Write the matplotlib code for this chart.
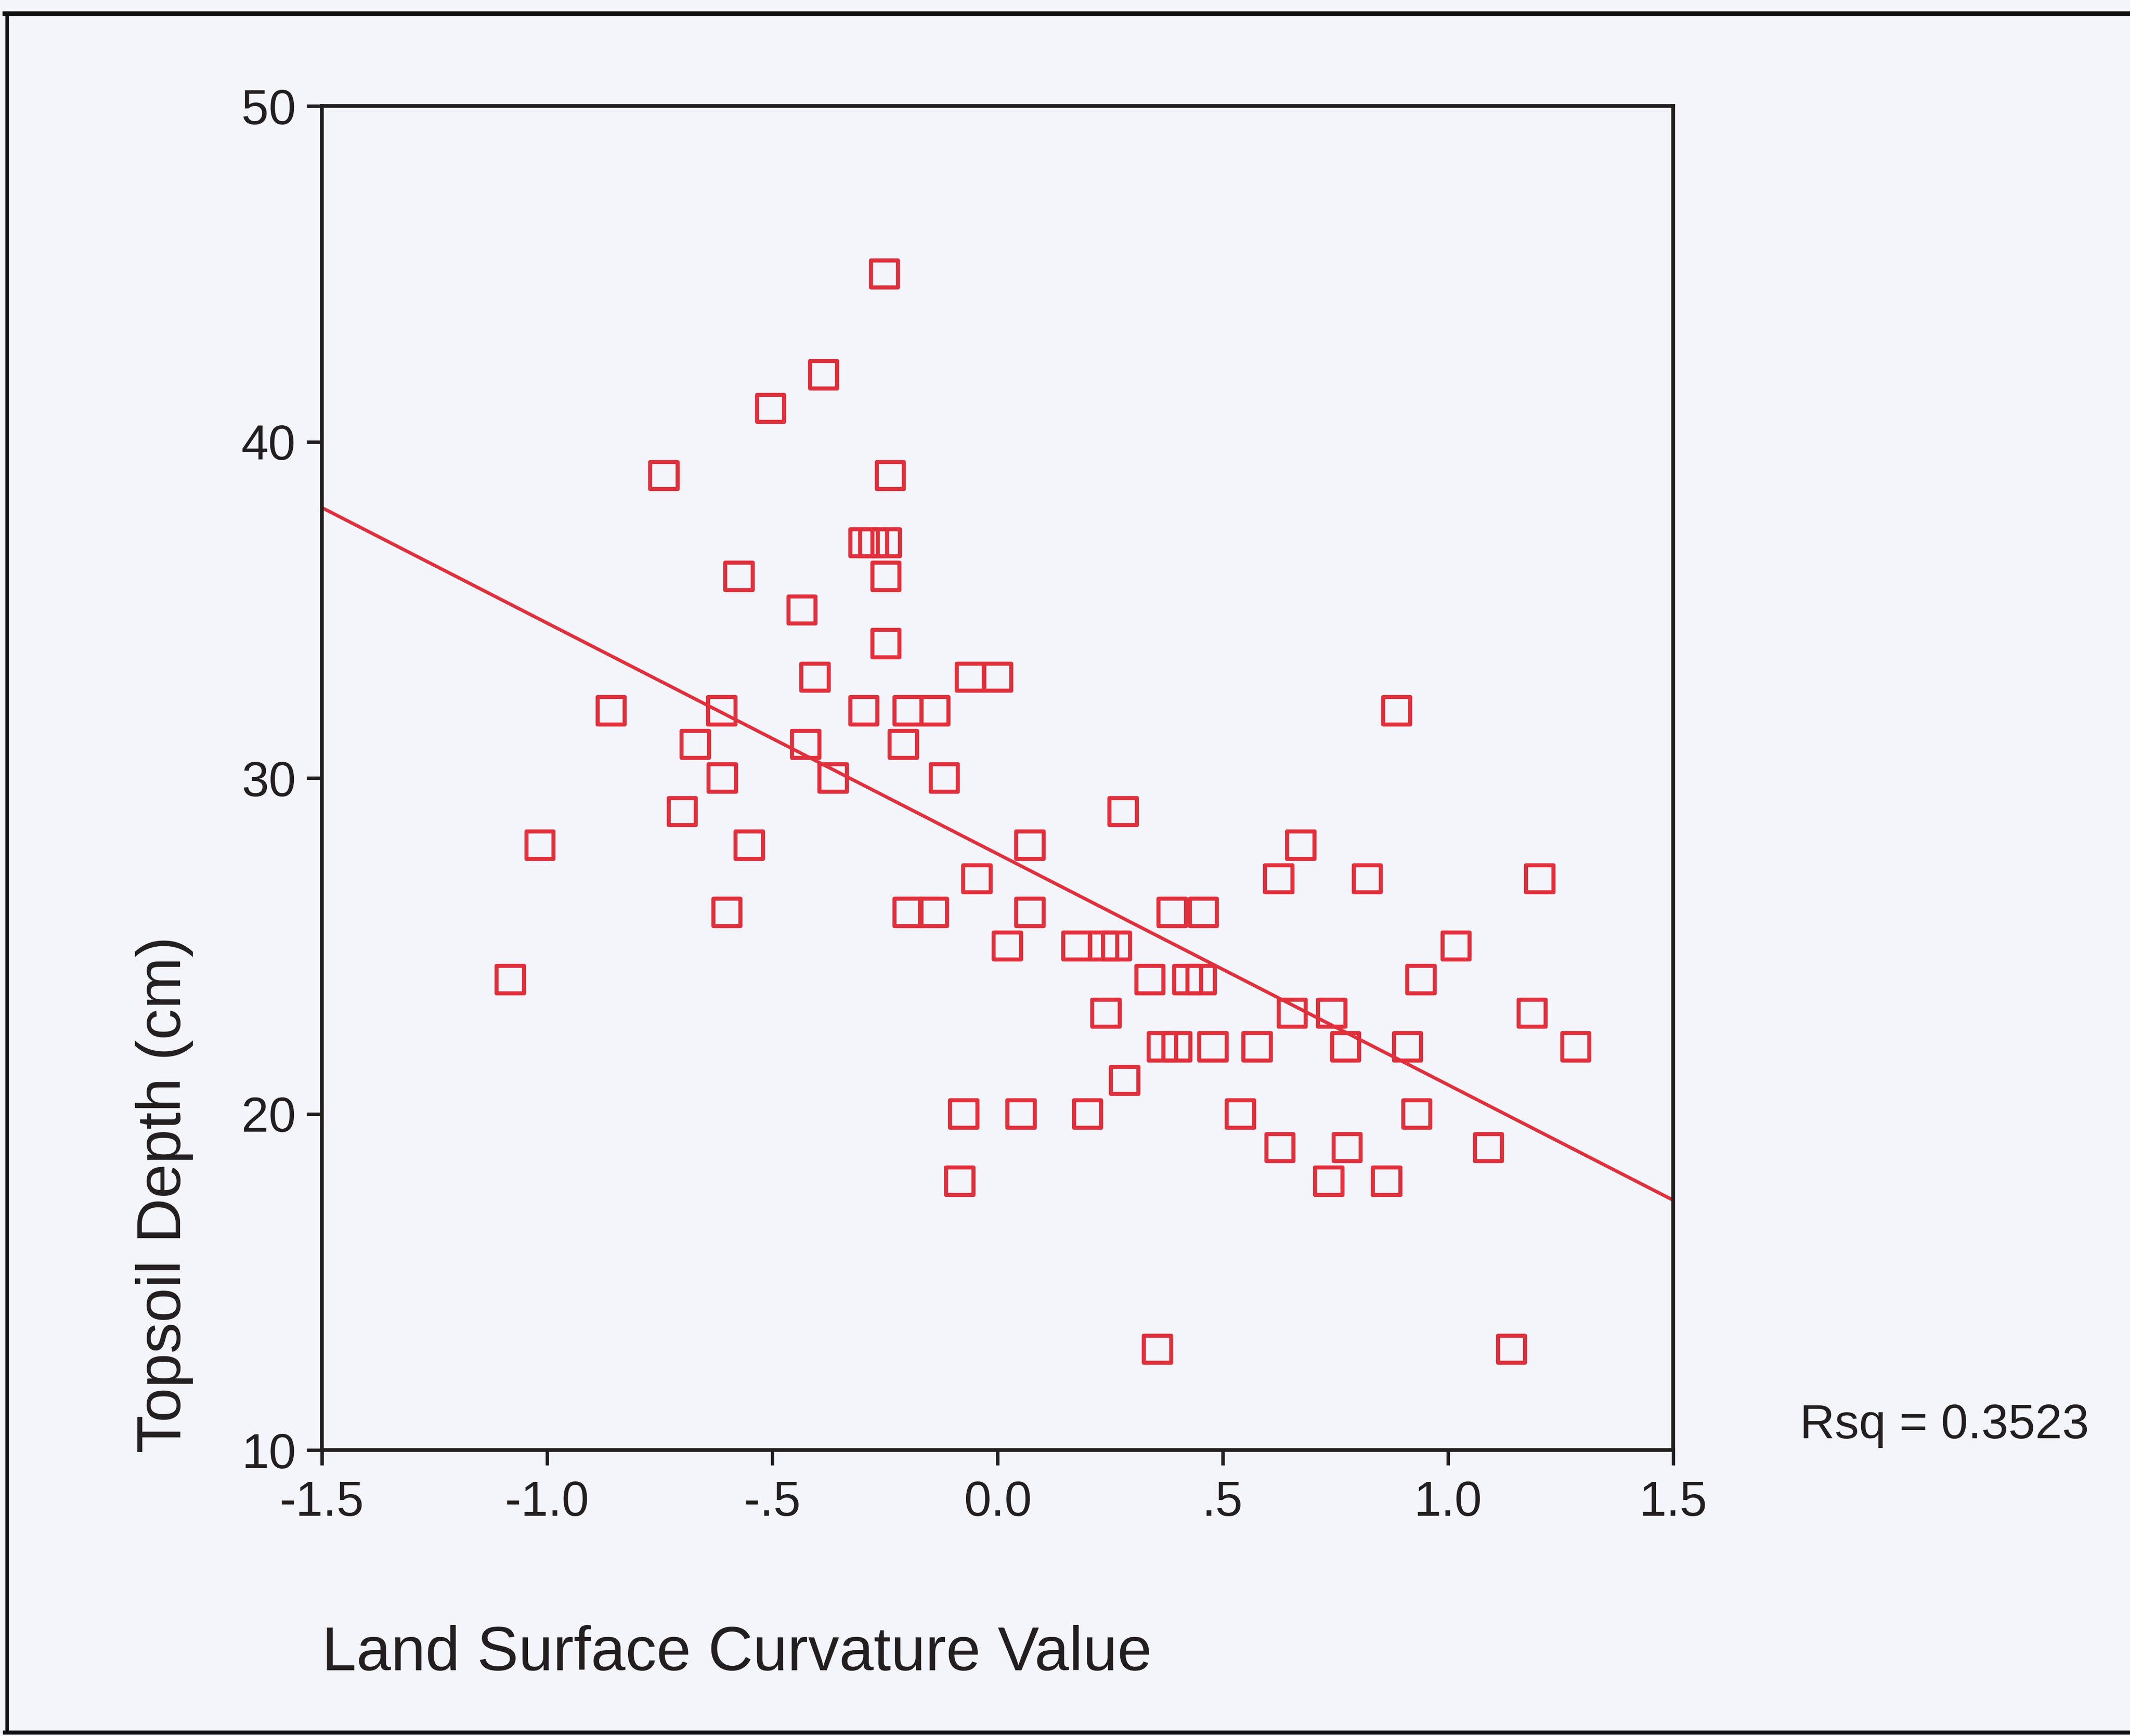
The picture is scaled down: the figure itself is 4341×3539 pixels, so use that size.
import matplotlib
matplotlib.use("Agg")
import matplotlib.pyplot as plt
from matplotlib.lines import Line2D
import numpy as np

# ---- data ----
curvature = [
    -0.251, -0.386, -0.504, -0.741, -0.238,
    -0.296, -0.275, -0.247, -0.574, -0.248,
    -0.434, -0.248, -0.405, -0.060, 0.000,
    -0.858, -0.612, -0.297, -0.199, -0.139, 0.886,
    -0.671, -0.426, -0.209,
    -0.611, -0.365, -0.118,
    -0.700, 0.279,
    -1.016, -0.551, 0.072, 0.673,
    -0.046, 0.624, 0.821, 1.204,
    -0.601, -0.199, -0.142, 0.072, 0.388, 0.457,
    0.022, 0.176, 0.235, 0.264, 1.018,
    -1.082, 0.338, 0.422, 0.452, 0.940,
    0.241, 0.654, 0.742, 1.187,
    0.366, 0.398, 0.478, 0.576, 0.773, 0.910, 1.284,
    0.282,
    -0.075, 0.052, 0.200, 0.539, 0.931,
    0.627, 0.776, 1.090,
    -0.084, 0.735, 0.864,
    0.355, 1.141,
]
depth = [
    45, 42, 41, 39, 39,
    37, 37, 37, 36, 36,
    35, 34, 33, 33, 33,
    32, 32, 32, 32, 32, 32,
    31, 31, 31,
    30, 30, 30,
    29, 29,
    28, 28, 28, 28,
    27, 27, 27, 27,
    26, 26, 26, 26, 26, 26,
    25, 25, 25, 25, 25,
    24, 24, 24, 24, 24,
    23, 23, 23, 23,
    22, 22, 22, 22, 22, 22, 22,
    21,
    20, 20, 20, 20, 20,
    19, 19, 19,
    18, 18, 18,
    13, 13,
]
fit_intercept = 27.74
fit_slope = -6.87
rsq_label = "Rsq = 0.3523"
x_ticks = [-1.5, -1.0, -0.5, 0.0, 0.5, 1.0, 1.5]
x_tick_labels = ["-1.5", "-1.0", "-.5", "0.0", ".5", "1.0", "1.5"]
y_ticks = [10, 20, 30, 40, 50]
y_tick_labels = ["10", "20", "30", "40", "50"]
x_label = "Land Surface Curvature Value"
y_label = "Topsoil Depth (cm)"

# ---- styling ----
BG = "#F3F5FB"
RED = "#E0303C"
INK = "#231F20"
W, H = 4341, 3539
DPI = 100
plt.rcParams["font.family"] = ["Liberation Sans", "DejaVu Sans"]

fig = plt.figure(figsize=(W / DPI, H / DPI), dpi=DPI, facecolor=BG)
ax = fig.add_axes([656 / W, 1 - 2956 / H, (3410 - 656) / W, (2956 - 216) / H])
ax.set_facecolor(BG)

ax.scatter(curvature, depth, marker="s", s=40 ** 2, facecolors="none",
           edgecolors=RED, linewidths=6, zorder=3)

xl = np.array([-1.5, 1.5])
ax.plot(xl, fit_intercept + fit_slope * xl, color=RED, lw=5, zorder=2,
        solid_capstyle="butt")

ax.set_xlim(-1.5, 1.5)
ax.set_ylim(10, 50)
ax.set_xticks(x_ticks)
ax.set_xticklabels(x_tick_labels)
ax.set_yticks(y_ticks)
ax.set_yticklabels(y_tick_labels)

for sp in ax.spines.values():
    sp.set_color(INK)
    sp.set_linewidth(5.5)
ax.tick_params(axis="both", direction="out", length=22, width=5, color=INK,
               labelsize=72, labelcolor=INK)
ax.tick_params(axis="x", pad=22)
ax.tick_params(axis="y", pad=16)

# axis titles (SPSS style: start at axis origin)
fig.text(656 / W, 1 - 3372 / H, x_label, ha="left", va="center",
         fontsize=91, color=INK)
fig.text(335 / W, 1 - 2962 / H, y_label, ha="center", va="bottom",
         rotation=90, fontsize=91, color=INK)

# R-square annotation
fig.text(3668 / W, 1 - 2907 / H, rsq_label, ha="left", va="center",
         fontsize=71, color=INK)

# outer frame of the chart area
fig.add_artist(Line2D([10 / W, 1.0], [1 - 28 / H, 1 - 28 / H],
                      transform=fig.transFigure, color="#111111", lw=7))
fig.add_artist(Line2D([14 / W, 14 / W], [1 - 28 / H, 1 - 3532 / H],
                      transform=fig.transFigure, color="#111111", lw=5))
fig.add_artist(Line2D([10 / W, 1.0], [1 - 3532 / H, 1 - 3532 / H],
                      transform=fig.transFigure, color="#111111", lw=6))

fig.savefig("out.png", dpi=DPI, facecolor=BG)
